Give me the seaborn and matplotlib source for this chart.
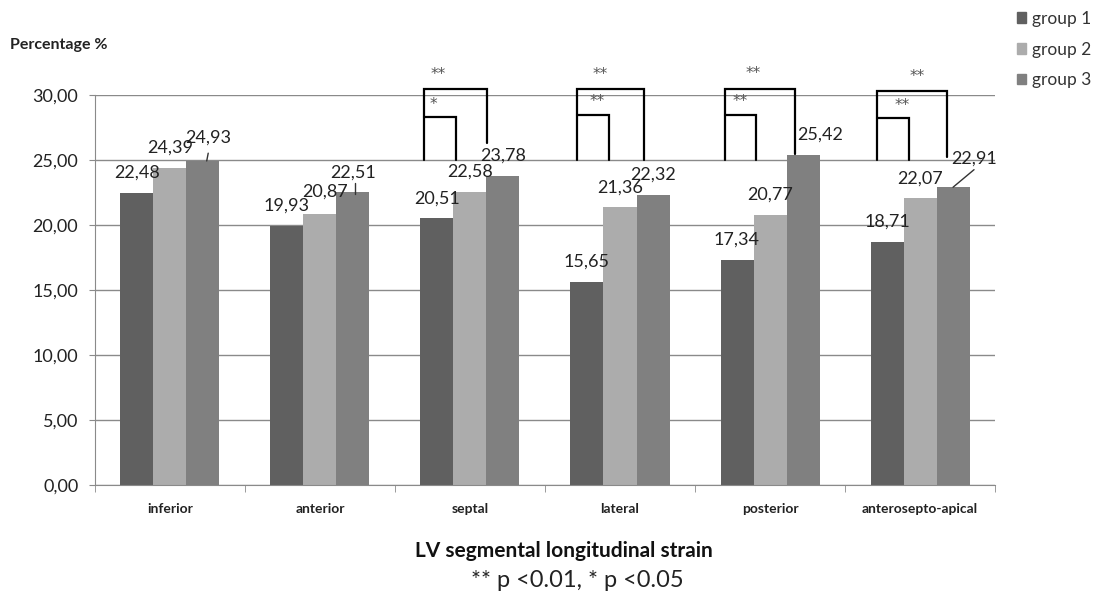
import numpy as np
import pandas as pd
import matplotlib
matplotlib.use("Agg")
import matplotlib.pyplot as plt
import matplotlib.patches as mpatches
import seaborn as sns

# dados
segmentos = ['inferior', 'anterior', 'septal', 'lateral', 'posterior', 'anterosepto-apical']
grupos = ['group 1', 'group 2', 'group 3']
group1 = [22.48, 19.93, 20.51, 15.65, 17.34, 18.71]
group2 = [24.39, 20.87, 22.58, 21.36, 20.77, 22.07]
group3 = [24.93, 22.51, 23.78, 22.32, 25.42, 22.91]
cores = ['#606060', '#acacac', '#808080']

# comparações significativas: (segmento, estrelas externas, estrelas internas)
signif = [('septal', '**', '*'), ('lateral', '**', '**'),
          ('posterior', '**', '**'), ('anterosepto-apical', '**', '**')]

df = pd.DataFrame({
    'segmento': segmentos * 3,
    'grupo': np.repeat(grupos, len(segmentos)),
    'valor': group1 + group2 + group3,
})

sns.set_style('white')
plt.rcParams['font.family'] = ['Lato', 'DejaVu Sans']

fig = plt.figure(figsize=(10.99, 5.98), dpi=100)
ax = fig.add_axes([0.0864, 0.189, 0.819, 0.652])

sns.barplot(data=df, x='segmento', y='valor', hue='grupo', order=segmentos,
            hue_order=grupos, palette=cores, width=0.66, ax=ax,
            saturation=1, legend=False, edgecolor='none')

ax.set_ylim(0, 30)
ax.set_xlim(-0.5, 5.5)
ax.set_yticks(np.arange(0, 31, 5))
ax.set_yticklabels([f'{v:.2f}'.replace('.', ',') for v in np.arange(0, 31, 5)],
                   fontsize=13, color='#222222')
ax.yaxis.grid(True, color='#8a8a8a', linewidth=1)
ax.set_axisbelow(True)
for s in ['top', 'right']:
    ax.spines[s].set_visible(False)
for s in ['left', 'bottom']:
    ax.spines[s].set_color('#8a8a8a')
ax.tick_params(axis='y', left=True, length=4, color='#8a8a8a', pad=8)
ax.set_xticks(range(len(segmentos)))
ax.set_xticklabels(segmentos, fontsize=10, fontweight='bold', color='#222222')
ax.set_xticks(np.arange(-0.5, 6, 1), minor=True)
ax.tick_params(axis='x', which='major', length=0, pad=13)
ax.tick_params(axis='x', which='minor', bottom=True, length=5, color='#8a8a8a')
ax.set_xlabel('')
ax.set_ylabel('')

# rótulos dos valores (deslocamentos em pixels)
larg = 0.22
offs = {(0, 2): (5, 23), (5, 2): (21, 29), (1, 1): (5, 22), (4, 2): (17, 20)}
for gi, vals in enumerate([group1, group2, group3]):
    for i, v in enumerate(vals):
        x = i + (gi - 1) * larg
        dx, dy = offs.get((i, gi), (0, 20))
        ax.annotate(f'{v:.2f}'.replace('.', ','), (x, v), xytext=(dx, dy),
                    textcoords='offset pixels', ha='center', va='center',
                    fontsize=13, color='#222222', annotation_clip=False)
# linhas de chamada
ax.plot([0.245, 0.255], [group3[0], group3[0] + 0.6], color='#333333', lw=1)
ax.plot([1.233, 1.233], [group3[1] - 0.1, group3[1] + 0.7], color='#333333', lw=1)
ax.plot([5 + 0.22, 5 + 0.36], [group3[5], group3[5] + 1.35], color='#333333', lw=1)

# colchetes de significância
geo = {
    'septal': (-0.307, 0.113, -0.093, 30.46, 28.3, 26.3, -0.213, -0.247),
    'lateral': (-0.287, 0.16, -0.073, 30.46, 28.5, 25.0, -0.133, -0.153),
    'posterior': (-0.30, 0.167, -0.093, 30.5, 28.5, 25.5, -0.113, -0.2),
    'anterosepto-apical': (-0.287, 0.18, -0.073, 30.3, 28.2, 25.2, -0.02, -0.12),
}
for seg, s_ext, s_int in signif:
    c = segmentos.index(seg)
    l, r, ri, top, itop, rb, sx, six = geo[seg]
    kw = dict(color='black', lw=1.6, clip_on=False, solid_joinstyle='miter')
    ax.plot([c + l, c + l, c + r, c + r], [25, top, top, rb], **kw)
    ax.plot([c + l, c + ri, c + ri], [itop, itop, 25], **kw)
    ax.text(c + sx, top + 1.15, s_ext, ha='center', va='center', fontsize=11,
            color='#555555', family='DejaVu Sans')
    ax.text(c + six, itop + 1.0, s_int, ha='center', va='center', fontsize=11,
            color='#555555', family='DejaVu Sans')

fig.text(0.009, 0.925, 'Percentage %', fontsize=11.5, fontweight='bold', va='center',
         color='#222222')
fig.text(0.513, 0.078, 'LV segmental longitudinal strain', fontsize=15,
         fontweight='bold', ha='center', va='center', color='#111111')
fig.text(0.525, 0.03, '** p <0.01, * p <0.05', fontsize=17, ha='center', va='center',
         color='#222222')

handles = [mpatches.Patch(color=c, label=g) for c, g in zip(cores, grupos)]
fig.legend(handles=handles, loc='upper left', bbox_to_anchor=(0.911, 1.008),
           frameon=False, fontsize=12.5, handlelength=0.55, handleheight=0.55,
           handletextpad=0.3, labelspacing=0.85, labelcolor='#333333')

plt.savefig('out.png', dpi=100)
